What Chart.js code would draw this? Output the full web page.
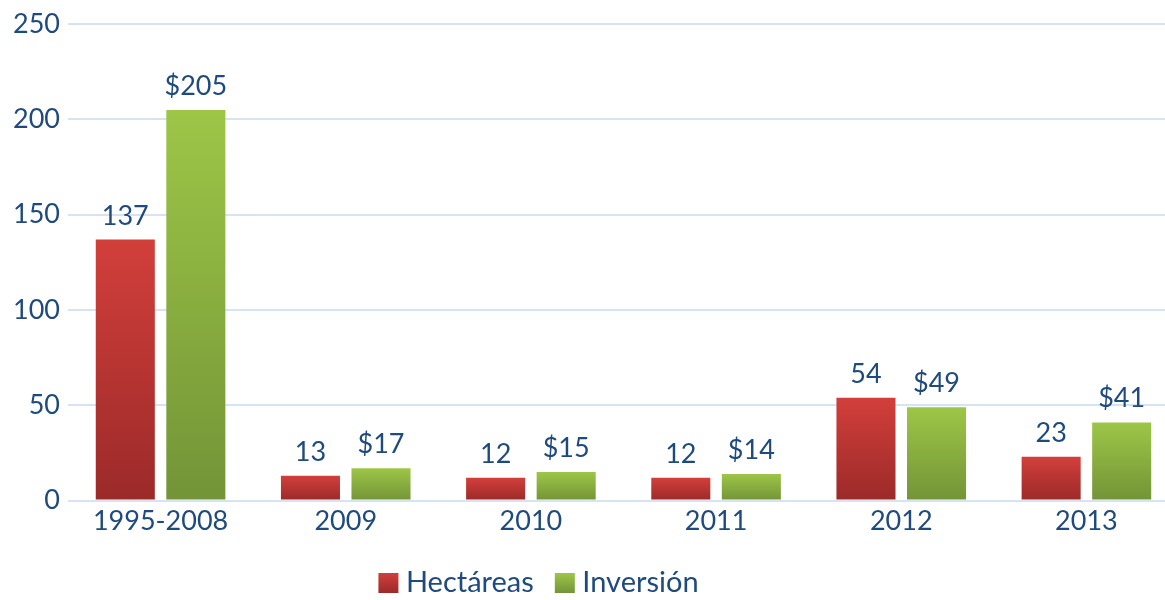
<!DOCTYPE html>
<html><head><meta charset="utf-8">
<script src="https://cdn.jsdelivr.net/npm/chart.js@4.4.0/dist/chart.umd.min.js"></script>
<style>html,body{margin:0;padding:0;overflow:hidden;background:#fff}#wrap{width:1179px;height:600px;position:relative}</style>
</head><body><div id="wrap"><canvas id="c"></canvas></div>
<script>
const categories = ['1995-2008', '2009', '2010', '2011', '2012', '2013'];
const hectareas = [137, 13, 12, 12, 54, 23];
const inversion = [205, 17, 15, 14, 49, 41];
const yTicks = [0, 50, 100, 150, 200, 250];
const seriesNames = ['Hectáreas', 'Inversión'];
const labelPrefix = ['', '$'];

const TEXT = '#1f4a7e';
const FONT = {family: 'Lato', size: 27};
const LEGEND_FONT = {family: 'Lato', size: 29};
const LEGEND_PAD = 28;
const LEGEND_BOX = 20;
const redStops = ['#d23f3b', '#9b2a29'];
const greenStops = ['#9dc647', '#739437'];
const LEGEND_CENTER_X = 542;
const LEGEND_CENTER_Y = 583;

function barGradient(stops) {
  return function (ctx) {
    const chart = ctx.chart;
    const ys = chart.scales && chart.scales.y;
    if (ctx.type !== 'data' || !ys || !chart.chartArea) return stops[0];
    const top = ys.getPixelForValue(ctx.raw);
    const bot = ys.getPixelForValue(0);
    if (!isFinite(top) || !isFinite(bot) || top === bot) return stops[0];
    const g = chart.ctx.createLinearGradient(0, top, 0, bot);
    g.addColorStop(0, stops[0]);
    g.addColorStop(1, stops[1]);
    return g;
  };
}

const valueLabels = {
  id: 'valueLabels',
  afterDatasetsDraw(chart) {
    const c = chart.ctx;
    c.save();
    c.font = FONT.size + 'px ' + FONT.family;
    c.fillStyle = TEXT;
    c.textAlign = 'center';
    c.textBaseline = 'alphabetic';
    chart.data.datasets.forEach((ds, di) => {
      const meta = chart.getDatasetMeta(di);
      meta.data.forEach((bar, i) => {
        c.fillText(labelPrefix[di] + ds.data[i], bar.x, bar.y - 15);
      });
    });
    c.restore();
  }
};

function legendTextCenter(lg) {
  return lg.top + LEGEND_PAD + Math.max(LEGEND_FONT.size, LEGEND_BOX) / 2;
}

const legendShift = {
  id: 'legendShift',
  afterLayout(chart) {
    const lg = chart.legend;
    if (!lg) return;
    const dx = LEGEND_CENTER_X - (lg.left + lg.right) / 2;
    lg.left += dx;
    lg.right += dx;
    const dy = LEGEND_CENTER_Y - legendTextCenter(lg);
    lg.top += dy;
    lg.bottom += dy;
  }
};

new Chart(document.getElementById('c'), {
  type: 'bar',
  data: {
    labels: categories,
    datasets: [
      {label: seriesNames[0], data: hectareas, backgroundColor: barGradient(redStops), borderWidth: 0,
       categoryPercentage: 0.762, barPercentage: 0.837},
      {label: seriesNames[1], data: inversion, backgroundColor: barGradient(greenStops), borderWidth: 0,
       categoryPercentage: 0.762, barPercentage: 0.837}
    ]
  },
  options: {
    responsive: true,
    maintainAspectRatio: false,
    animation: false,
    layout: {padding: {top: 14, left: 5, right: 0, bottom: 0}},
    plugins: {
      tooltip: {enabled: false},
      legend: {
        position: 'bottom',
        maxHeight: 75.6,
        labels: {
          color: TEXT,
          font: LEGEND_FONT,
          usePointStyle: true,
          boxWidth: 6,
          boxHeight: LEGEND_BOX,
          padding: LEGEND_PAD,
          generateLabels(chart) {
            const items = Chart.defaults.plugins.legend.labels.generateLabels(chart);
            const lg = chart.legend;
            items.forEach((it, i) => {
              const st = i === 0 ? redStops : greenStops;
              it.lineWidth = 0;
              it.strokeStyle = 'rgba(0,0,0,0)';
              it.pointStyle = 'rect';
              it.rotation = 0;
              if (lg && isFinite(lg.top)) {
                const cy = legendTextCenter(lg);
                const g = chart.ctx.createLinearGradient(0, cy - LEGEND_BOX / 2, 0, cy + LEGEND_BOX / 2);
                g.addColorStop(0, st[0]);
                g.addColorStop(1, st[1]);
                it.fillStyle = g;
              } else {
                it.fillStyle = st[0];
              }
            });
            return items;
          }
        }
      }
    },
    scales: {
      x: {
        grid: {display: false},
        border: {display: false},
        ticks: {color: TEXT, font: FONT, padding: -4}
      },
      y: {
        min: 0,
        max: 250,
        afterBuildTicks(axis) { axis.ticks = yTicks.map(v => ({value: v})); },
        grid: {color: '#d6e3f3', lineWidth: 2, drawTicks: false},
        border: {display: false},
        ticks: {color: TEXT, font: FONT, padding: 8}
      }
    }
  },
  plugins: [valueLabels, legendShift]
});
</script>
</body></html>
